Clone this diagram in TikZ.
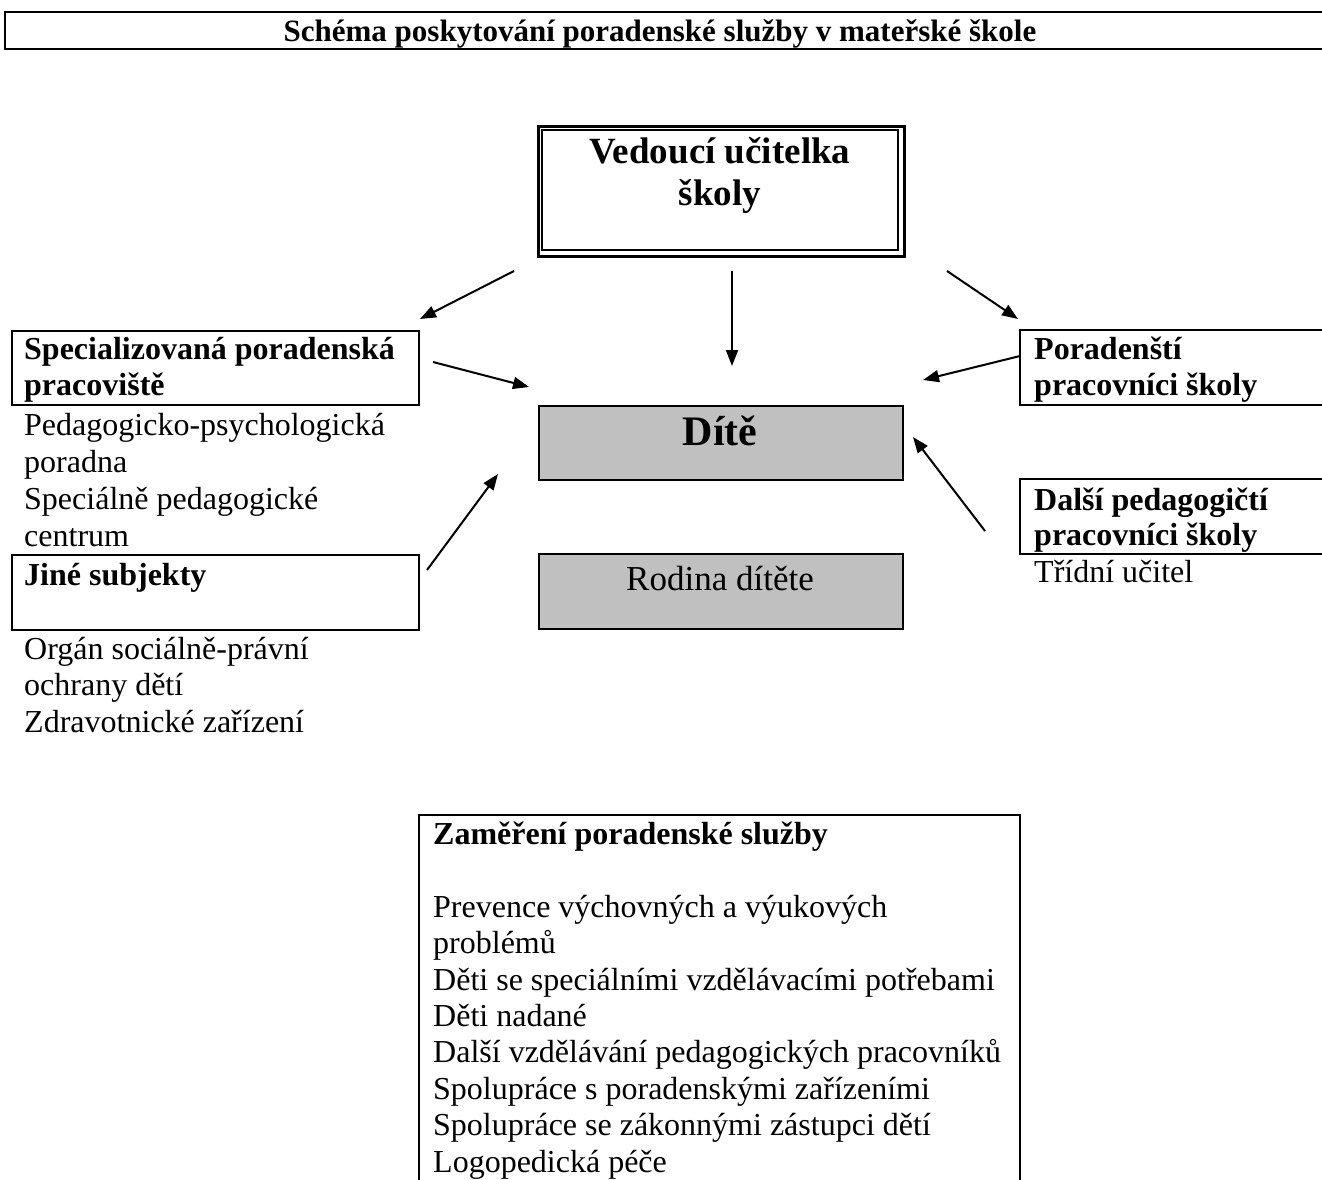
\documentclass[tikz,border=0pt]{standalone}
\usepackage{fontspec}
\setmainfont{Liberation Serif}
\usetikzlibrary{arrows.meta}
\definecolor{boxgray}{HTML}{C0C0C0}
\tikzset{
  frame/.style={draw=black, line width=2pt},
  boxnode/.style={frame, inner sep=0pt, anchor=north west},
  txt/.style={anchor=base west, inner sep=0pt, font=\fontsize{32}{37}\selectfont},
  btxt/.style={anchor=base west, inner sep=0pt, font=\fontsize{32}{37}\selectfont\bfseries},
  ctxt/.style={anchor=base, inner sep=0pt},
  arr/.style={line width=2pt, -{Triangle[length=16pt,width=12pt]}},
}
\begin{document}
\begin{tikzpicture}[x=1pt,y=-1pt]
\useasboundingbox (0,0) rectangle (1322,1180);

% title frame (open on the right)
\draw[frame] (1324,12) -- (5,12) -- (5,49) -- (1324,49);
\node[ctxt, font=\fontsize{31}{36}\selectfont\bfseries] (title) at (660,42) {Schéma poskytování poradenské služby v mateřské škole};

% head box (double frame)
\node[boxnode, line width=3pt, minimum width=366pt, minimum height=130pt] (head) at (537,125) {};
\draw[line width=1.3pt] (542,130) rectangle (898,250);
\node[ctxt, font=\fontsize{37}{41}\selectfont\bfseries] (headA) at (720,164) {Vedoucí učitelka};
\node[ctxt, font=\fontsize{37}{41}\selectfont\bfseries] (headB) at (720,205) {školy};

% child and family
\node[boxnode, fill=boxgray, minimum width=364pt, minimum height=74pt] (child) at (538,405) {};
\node[ctxt, font=\fontsize{42}{48}\selectfont\bfseries] (childtxt) at (720,445) {Dítě};
\node[boxnode, fill=boxgray, minimum width=364pt, minimum height=75pt] (family) at (538,553) {};
\node[ctxt, font=\fontsize{35}{40}\selectfont] (familytxt) at (720,590) {Rodina dítěte};

% left: specialised workplaces
\node[boxnode, minimum width=407pt, minimum height=74pt] (spec) at (11,330) {};
\node[btxt] (specA) at (24,359) {Specializovaná poradenská};
\node[btxt] (specB) at (24,395) {pracoviště};
\node[txt] (specC) at (24,435) {Pedagogicko-psychologická};
\node[txt] (specD) at (24,472) {poradna};
\node[txt] (specE) at (24,509) {Speciálně pedagogické};
\node[txt] (specF) at (24,546) {centrum};

% left: other subjects
\node[boxnode, minimum width=407pt, minimum height=75pt] (other) at (11,554) {};
\node[btxt] (otherA) at (24,585) {Jiné subjekty};
\node[txt] (otherB) at (24,659) {Orgán sociálně-právní};
\node[txt] (otherC) at (24,695) {ochrany dětí};
\node[txt] (otherD) at (24,732) {Zdravotnické zařízení};

% right: school counsellors (open on the right)
\draw[frame] (1324,330) -- (1020,330) -- (1020,405) -- (1324,405);
\node[btxt] (counsA) at (1034,359) {Poradenští};
\node[btxt] (counsB) at (1034,395) {pracovníci školy};

% right: other teachers (open on the right)
\draw[frame] (1324,479) -- (1020,479) -- (1020,554) -- (1324,554);
\node[btxt] (teachA) at (1034,510) {Další pedagogičtí};
\node[btxt] (teachB) at (1034,545) {pracovníci školy};
\node[txt] (teachC) at (1034,582) {Třídní učitel};

% bottom: focus (open at the bottom)
\draw[frame] (419,1182) -- (419,815) -- (1020,815) -- (1020,1182);
\node[btxt] (focA) at (433,844) {Zaměření poradenské služby};
\node[txt] (focB) at (433,917) {Prevence výchovných a výukových};
\node[txt] (focC) at (433,953) {problémů};
\node[txt] (focD) at (433,990) {Děti se speciálními vzdělávacími potřebami};
\node[txt] (focE) at (433,1026) {Děti nadané};
\node[txt] (focF) at (433,1062) {Další vzdělávání pedagogických pracovníků};
\node[txt] (focG) at (433,1099) {Spolupráce s poradenskými zařízeními};
\node[txt] (focH) at (433,1135) {Spolupráce se zákonnými zástupci dětí};
\node[txt] (focI) at (433,1172) {Logopedická péče};

% arrows
\coordinate (a1s) at (514,271); \coordinate (a1e) at (420,319);
\coordinate (a2s) at (732,271); \coordinate (a2e) at (732,366);
\coordinate (a3s) at (947,271); \coordinate (a3e) at (1018,319);
\coordinate (a4s) at (433,362); \coordinate (a4e) at (529,387);
\coordinate (a5s) at (1020,356); \coordinate (a5e) at (923,380);
\coordinate (a6s) at (427,570); \coordinate (a6e) at (498,474);
\coordinate (a7s) at (985,531); \coordinate (a7e) at (913,437);
\draw[arr] (a1s) -- (a1e);
\draw[arr] (a2s) -- (a2e);
\draw[arr] (a3s) -- (a3e);
\draw[arr] (a4s) -- (a4e);
\draw[arr] (a5s) -- (a5e);
\draw[arr] (a6s) -- (a6e);
\draw[arr] (a7s) -- (a7e);
\end{tikzpicture}
\end{document}
